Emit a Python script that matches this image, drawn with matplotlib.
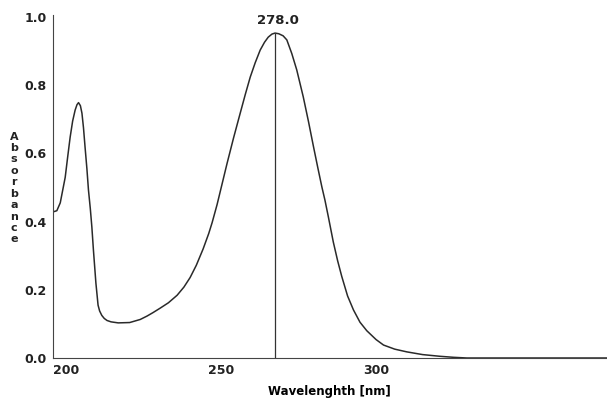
import matplotlib.pyplot as plt

# absorbance spectrum
wavelength = [195.6, 197.0, 198.1, 199.7, 200.5, 201.3, 202.1, 202.9, 203.5, 204.0,
              204.6, 205.1, 205.6, 206.1, 206.7, 207.2, 207.8, 208.3, 208.8, 209.6,
              210.3, 210.8, 211.5, 212.3, 213.2, 214.5, 216.8, 220.5, 223.9, 226.1,
              228.0, 230.3, 233.0, 235.8, 238.0, 240.0, 242.0, 244.2, 246.0, 247.1,
              248.7, 250.3, 251.9, 254.0, 256.1, 257.8, 259.4, 261.0, 262.6, 264.0,
              265.2, 266.4, 267.4, 268.6, 270.0, 271.2, 272.8, 274.4, 276.5, 278.2,
              279.8, 281.2, 282.5, 283.5, 284.6, 286.2, 287.6, 288.9, 290.8, 292.7,
              294.8, 297.0, 300.0, 302.4, 306.0, 309.9, 315.0, 320.6, 325.0, 329.3,
              340.0, 374.5]
absorbance = [0.428, 0.432, 0.455, 0.53, 0.59, 0.648, 0.695, 0.727, 0.743, 0.749,
              0.740, 0.718, 0.675, 0.619, 0.555, 0.493, 0.438, 0.384, 0.317, 0.22,
              0.155, 0.138, 0.125, 0.116, 0.110, 0.106, 0.103, 0.104, 0.113, 0.123,
              0.133, 0.146, 0.162, 0.184, 0.208, 0.236, 0.272, 0.320, 0.365, 0.397,
              0.450, 0.510, 0.570, 0.645, 0.716, 0.773, 0.824, 0.866, 0.903, 0.926,
              0.941, 0.950, 0.953, 0.951, 0.945, 0.933, 0.893, 0.845, 0.766, 0.693,
              0.62, 0.558, 0.502, 0.463, 0.414, 0.340, 0.285, 0.240, 0.182, 0.141,
              0.105, 0.080, 0.054, 0.038, 0.026, 0.018, 0.010, 0.005, 0.002, 0.0,
              0.0, 0.0]

peak_x = 267.5
peak_y = 0.953
peak_label = "278.0"

x_ticks = [200, 250, 300]
y_ticks = [0.0, 0.2, 0.4, 0.6, 0.8, 1.0]

fig = plt.figure(figsize=(6.07, 3.98), dpi=100)
ax = fig.add_axes([52.5 / 607, 40 / 398, 1 - 52.5 / 607, 343 / 398])

ax.plot(wavelength, absorbance, color='#2a2a2a', lw=1.1)
ax.vlines(peak_x, 0, peak_y, color='#333333', lw=0.9)
ax.text(peak_x + 0.8, peak_y + 0.018, peak_label, ha='center', va='bottom',
        fontsize=9.5, fontweight='bold', color='#222222')

ax.set_xlim(195.6, 374.5)
ax.set_ylim(0, 1.006)
ax.set_xticks(x_ticks)
ax.set_yticks(y_ticks)
ax.set_yticklabels(['%.1f' % v for v in y_ticks])
ax.tick_params(length=0, labelsize=9, colors='#222222', pad=4)
for lab in ax.get_xticklabels() + ax.get_yticklabels():
    lab.set_fontweight('bold')

ax.spines['top'].set_visible(False)
ax.spines['right'].set_visible(False)
ax.spines['left'].set_color('#444444')
ax.spines['bottom'].set_color('#444444')

ax.set_xlabel('Wavelenghth [nm]', fontsize=8.5, fontweight='bold', labelpad=6)
fig.text(14 / 607, 1 - 188 / 398, '\n'.join('Absorbance'), ha='center', va='center',
         fontsize=8, fontweight='bold', linespacing=1.18, color='#222222')

fig.savefig('out.png', dpi=100)
